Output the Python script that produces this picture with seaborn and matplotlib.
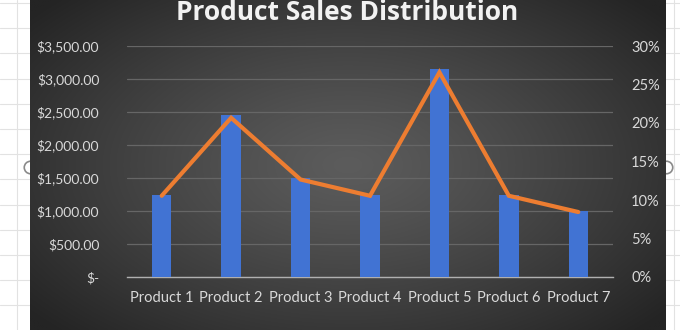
import numpy as np
import pandas as pd
import matplotlib
matplotlib.use("Agg")
import matplotlib.pyplot as plt
from matplotlib.patches import Patch
from matplotlib.lines import Line2D
from matplotlib.ticker import FuncFormatter
import seaborn as sns

# ---- data ----
categories = ["Product 1", "Product 2", "Product 3", "Product 4",
              "Product 5", "Product 6", "Product 7"]
sales = [1250, 2450, 1500, 1250, 3150, 1250, 1000]
left_ticks = [0, 500, 1000, 1500, 2000, 2500, 3000, 3500]
right_ticks = [0, 0.05, 0.10, 0.15, 0.20, 0.25, 0.30]
title = "Product Sales Distribution"
legend_labels = ["Sales", "% of Sales"]

df = pd.DataFrame({"Product": categories, "Sales": sales})
df["Pct"] = df["Sales"] / df["Sales"].sum()
df["pos"] = np.arange(len(categories))

sns.set_theme(style="white")
plt.rcParams["font.family"] = ["Lato", "DejaVu Sans"]

W, H = 680, 330
fig = plt.figure(figsize=(W / 100, H / 100), dpi=100)
fig.patch.set_facecolor("white")

# spreadsheet grid in white margins
bg = fig.add_axes([0, 0, 1, 1], zorder=0)
bg.set_xlim(0, W)
bg.set_ylim(H, 0)
bg.axis("off")
for y in np.arange(3, H, 25.2):
    bg.plot([0, W], [y, y], color="#e2e2e2", lw=0.8)
for x in [17, 674]:
    bg.plot([x, x], [0, H], color="#e2e2e2", lw=0.8)

# dark radial gradient chart area
x0, x1 = 30, 666
gax = fig.add_axes([x0 / W, 0, (x1 - x0) / W, 1], zorder=1)
gx = np.linspace(-1, 1, 400)
gy = np.linspace(-1, 1, 200)
GX, GY = np.meshgrid(gx, gy)
R = np.sqrt(GX ** 2 + (GY / 1.1) ** 2)
R = np.clip(R / 1.3, 0, 1) ** 1.2
c_in = np.array([0x5c, 0x5c, 0x5c]) / 255
c_out = np.array([0x24, 0x24, 0x24]) / 255
img = c_in[None, None, :] * (1 - R[..., None]) + c_out[None, None, :] * R[..., None]
gax.imshow(img, aspect="auto", extent=[0, 1, 0, 1], interpolation="bilinear")
gax.axis("off")

# main plot area
left, right, top, bottom = 127, 613, 46, 277
ax = fig.add_axes([left / W, (H - bottom) / H, (right - left) / W, (bottom - top) / H], zorder=2)
ax.set_facecolor("none")

sns.barplot(data=df, x="pos", y="Sales", color="#4173d3", width=0.28,
            saturation=1, ax=ax, zorder=3, edgecolor="none", linewidth=0)
ax.set_ylim(0, 3500)
ax.set_xlim(-0.5, len(categories) - 0.5)
ax.set_yticks(left_ticks)
ax.yaxis.set_major_formatter(FuncFormatter(lambda v, p: "$-" if v == 0 else f"${v:,.2f}"))
ax.set_xticks(range(len(categories)))
ax.set_xticklabels(categories)
ax.grid(axis="y", color="#666666", lw=0.9, zorder=0)
ax.set_axisbelow(True)
for s in ["top", "right", "left"]:
    ax.spines[s].set_visible(False)
ax.spines["bottom"].set_color("#b0b0b0")
ax.spines["bottom"].set_linewidth(1.0)
ax.tick_params(axis="y", length=0, pad=20, labelsize=10, labelcolor="#d9d9d9")
ax.tick_params(axis="x", length=0, pad=10, labelsize=10.5, labelcolor="#d9d9d9")
ax.set_xlabel("")
ax.set_ylabel("")

ax2 = ax.twinx()
ax2.set_facecolor("none")
sns.lineplot(data=df, x="pos", y="Pct", color="#ed7d31", lw=3.0, ax=ax2,
             zorder=4, solid_capstyle="round", solid_joinstyle="miter")
ax2.set_ylim(0, 0.30)
ax2.set_yticks(right_ticks)
ax2.yaxis.set_major_formatter(FuncFormatter(lambda v, p: f"{v * 100:.0f}%"))
ax2.tick_params(axis="y", length=0, pad=13, labelsize=10.5, labelcolor="#d9d9d9")
ax2.set_ylabel("")
ax2.set_xlabel("")
ax2.grid(False)
for s in ax2.spines.values():
    s.set_visible(False)

fig.text(347 / W, 1 - 20 / H, title, ha="center", va="baseline",
         fontsize=19, fontweight="bold", color="#f2f2f2", zorder=5,
         family=["Open Sans", "DejaVu Sans"])

handles = [Patch(facecolor="#4173d3", edgecolor="none"),
           Line2D([0], [0], color="#ed7d31", lw=3)]
fig.legend(handles, legend_labels, loc="upper center", bbox_to_anchor=(347 / W, 8 / H),
           ncol=2, frameon=False, fontsize=10.5, labelcolor="#d9d9d9",
           handlelength=2.4, columnspacing=1.8, handletextpad=0.6)

# selection handles
for hx in [x0, x1]:
    bg.plot([hx], [167], marker="o", ms=9, mfc="white", mec="#8a8a8a", mew=1.2,
            zorder=10, clip_on=False)

fig.savefig("out.png", dpi=100)
